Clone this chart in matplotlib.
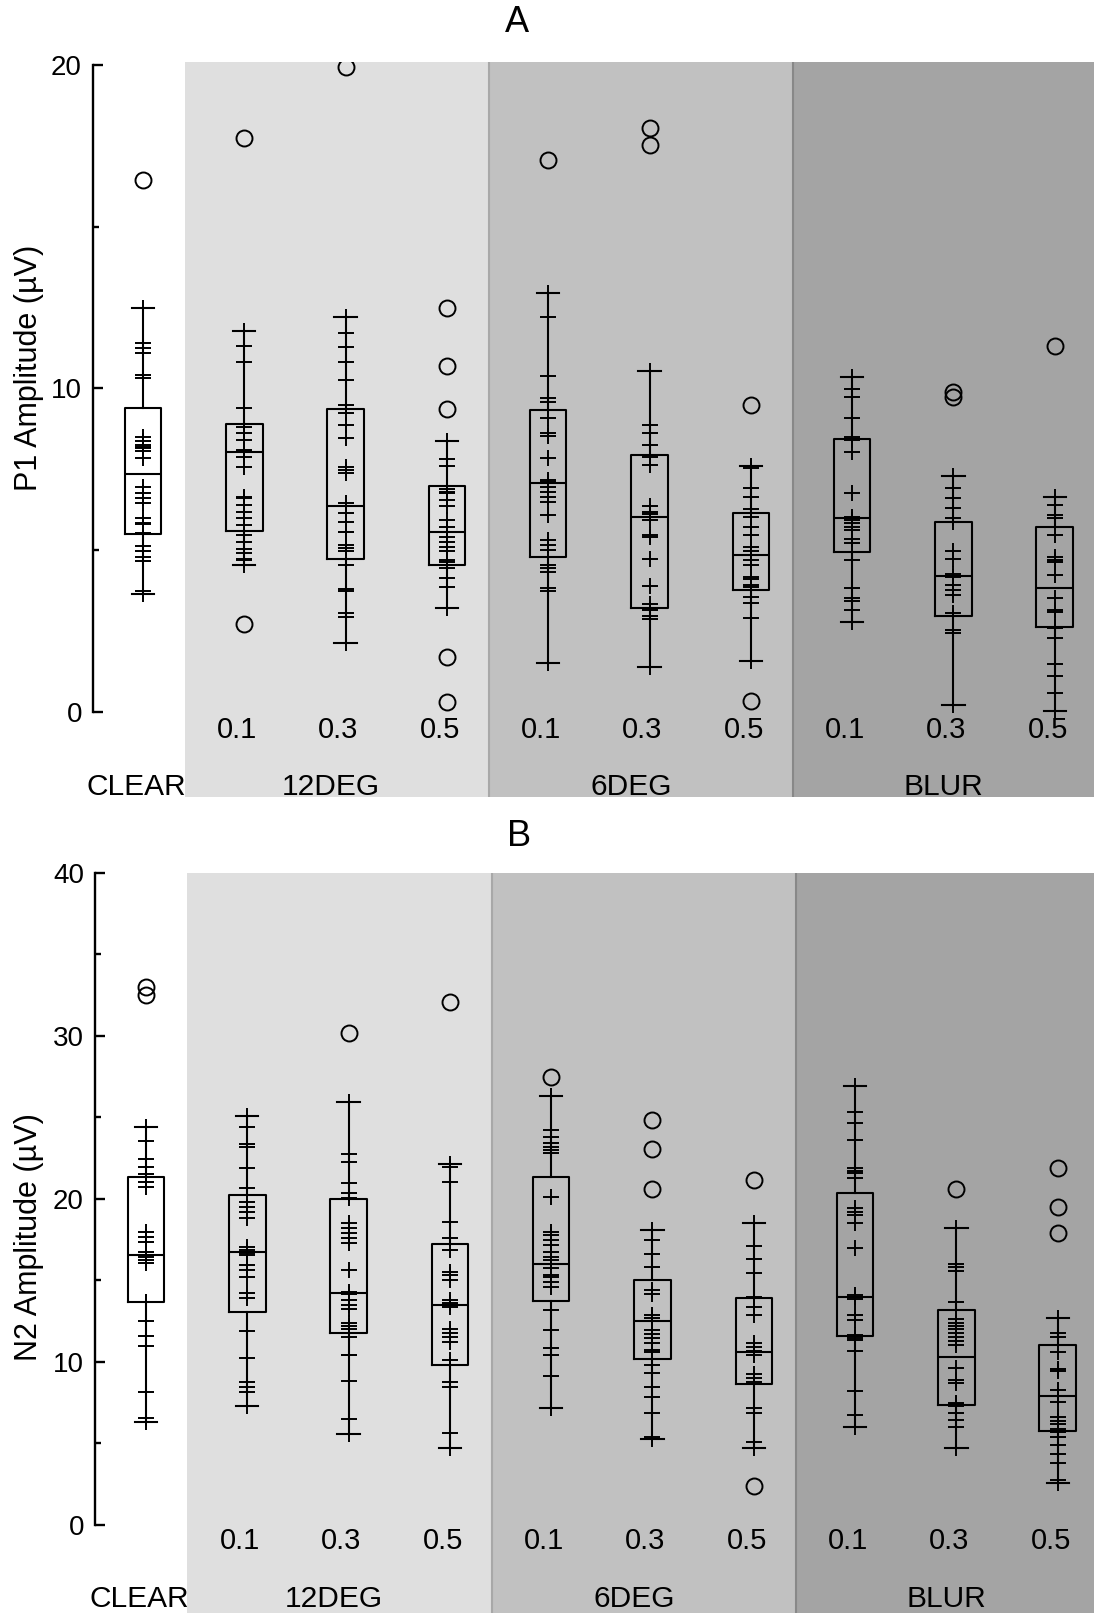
import numpy as np
import matplotlib
matplotlib.use("Agg")
import matplotlib.pyplot as plt

plt.rcParams['font.family'] = ['Liberation Sans', 'DejaVu Sans']

# Layout of the conditions
positions = [1, 2, 3, 4, 5, 6, 7, 8, 9, 10]
level_labels = ["", "0.1", "0.3", "0.5", "0.1", "0.3", "0.5", "0.1", "0.3", "0.5"]
group_names = ["CLEAR", "12DEG", "6DEG", "BLUR"]
group_label_x = [0.93, 2.85, 5.82, 8.90]
region_edges = [1.41, 4.415, 7.42]
region_colors = ["#dfdfdf", "#c1c1c1", "#a4a4a4"]

# Panel A - P1 amplitude
p1_q1 = [5.50, 5.60, 4.74, 4.54, 4.80, 3.22, 3.77, 4.93, 2.97, 2.61]
p1_med = [7.36, 8.03, 6.37, 5.57, 7.07, 6.01, 4.85, 5.99, 4.21, 3.84]
p1_q3 = [9.41, 8.89, 9.37, 6.99, 9.34, 7.94, 6.16, 8.44, 5.88, 5.73]
p1_points = [
    [12.48, 11.40, 11.24, 11.08, 10.42, 10.31, 8.49, 8.36, 8.25, 8.20, 8.15, 8.05, 7.84,
     6.95, 6.78, 6.62, 6.47, 5.98, 5.85, 5.81, 5.52, 5.14, 4.96, 4.80, 4.65, 3.75, 3.65],
    [11.78, 11.32, 10.81, 9.41, 8.82, 8.61, 8.41, 8.10, 8.05, 7.89, 7.56, 6.65, 6.60, 6.40,
     6.19, 5.99, 5.78, 5.47, 5.26, 5.05, 4.90, 4.74, 4.70, 4.54],
    [12.22, 11.70, 11.29, 10.83, 10.26, 9.49, 9.23, 8.87, 8.46, 7.56, 7.48, 7.38, 6.45, 6.14,
     5.88, 5.57, 5.55, 5.16, 5.06, 4.96, 4.54, 3.79, 3.75, 3.05, 2.93, 2.14],
    [8.38, 7.82, 7.60, 6.99, 6.88, 6.81, 6.76, 6.55, 6.37, 5.94, 5.73, 5.57, 5.42, 5.26, 5.11,
     4.96, 4.70, 4.62, 4.44, 4.13, 3.87, 3.22],
    [12.94, 12.22, 10.39, 9.69, 9.59, 9.08, 8.61, 8.53, 7.86, 7.17, 7.12, 6.96, 6.81, 6.65,
     6.50, 6.10, 5.32, 5.16, 5.01, 4.54, 4.44, 4.34, 3.82, 3.75, 1.52],
    [10.55, 8.87, 8.61, 8.25, 7.94, 7.87, 7.64, 6.35, 6.19, 6.12, 5.94, 5.47, 5.40, 4.73, 3.90,
     3.34, 3.15, 2.97, 2.87, 1.40],
    [7.60, 7.53, 6.91, 6.65, 6.26, 6.04, 5.73, 5.47, 5.11, 4.96, 4.85, 4.70, 4.54, 4.18, 4.10,
     3.93, 3.87, 3.56, 3.36, 2.90, 1.58],
    [10.35, 9.98, 9.73, 9.08, 8.49, 8.41, 8.02, 6.76, 6.04, 5.94, 5.83, 5.73, 5.63, 5.34, 5.22,
     4.70, 3.82, 3.51, 3.44, 3.15, 2.79],
    [7.30, 6.91, 6.60, 6.29, 5.99, 5.88, 4.96, 4.72, 4.27, 4.18, 3.93, 3.77, 3.62, 3.05, 2.95,
     2.53, 2.43, 0.22],
    [6.64, 6.40, 6.09, 5.99, 5.47, 4.80, 4.70, 4.62, 4.24, 3.51, 3.15, 3.10, 2.64, 2.59, 2.30,
     1.47, 1.12, 0.58, 0.04],
]
p1_outliers = [[16.44], [17.73, 2.71], [19.95], [12.48, 10.70, 9.36, 1.71, 0.32], [17.06],
               [18.04, 17.53], [9.49, 0.35], [], [9.90, 9.75], [11.31]]

# Panel B - N2 amplitude
n2_q1 = [13.66, 13.09, 11.80, 9.82, 13.76, 10.18, 8.65, 11.60, 7.36, 5.78]
n2_med = [16.56, 16.77, 14.25, 13.48, 16.01, 12.52, 10.61, 14.01, 10.33, 7.91]
n2_q3 = [21.37, 20.25, 19.98, 17.22, 21.37, 15.03, 13.95, 20.35, 13.19, 11.04]
n2_points = [
    [24.44, 23.58, 22.43, 21.98, 21.53, 21.37, 21.06, 20.72, 17.99, 17.69, 17.38, 16.77, 16.56,
     16.42, 16.26, 16.06, 13.70, 13.66, 12.53, 11.60, 11.00, 8.14, 6.54, 6.34],
    [25.09, 24.40, 23.37, 23.21, 21.92, 20.69, 19.80, 19.50, 19.20, 18.85, 17.08, 16.87, 16.71,
     16.56, 15.95, 15.64, 15.23, 14.21, 13.91, 11.90, 10.23, 8.79, 8.48, 8.18, 7.32],
    [25.97, 22.74, 22.29, 20.96, 20.39, 20.04, 18.51, 18.20, 17.90, 17.59, 17.28, 15.64, 14.31,
     14.17, 13.80, 13.50, 13.23, 12.41, 12.21, 12.01, 11.55, 10.45, 10.40, 8.83, 6.50, 5.56],
    [22.13, 21.98, 21.03, 18.61, 17.59, 16.87, 15.54, 15.34, 15.03, 13.80, 13.60, 13.39, 12.01,
     11.80, 11.55, 11.25, 10.12, 9.82, 8.79, 8.48, 5.66, 4.70],
    [26.32, 24.23, 23.82, 23.42, 23.21, 23.01, 22.80, 20.14, 17.99, 17.79, 17.48, 17.18, 16.77,
     16.46, 16.26, 15.75, 15.34, 15.20, 14.93, 14.62, 13.19, 11.96, 10.84, 10.43, 9.14, 7.16],
    [18.10, 17.48, 16.63, 15.81, 14.42, 14.17, 12.88, 12.68, 11.96, 11.72, 11.45, 11.19, 10.74,
     10.63, 9.82, 9.31, 8.48, 7.87, 6.85, 5.38, 5.30],
    [18.51, 17.12, 16.32, 15.44, 13.97, 13.39, 12.88, 11.19, 10.94, 10.69, 10.43, 9.26, 9.00,
     8.79, 8.65, 7.16, 6.89, 5.11, 4.74],
    [26.95, 25.36, 24.68, 23.62, 21.88, 21.72, 21.58, 21.27, 19.43, 19.22, 19.02, 18.51, 16.98,
     14.11, 13.97, 13.85, 12.88, 12.58, 11.66, 11.45, 11.35, 10.69, 8.24, 6.75, 6.03],
    [18.20, 16.01, 15.81, 15.60, 13.70, 12.62, 12.41, 12.21, 12.01, 11.76, 11.55, 11.31, 11.04,
     9.61, 8.90, 8.69, 7.50, 7.42, 7.30, 6.85, 6.44, 6.03, 4.70],
    [12.68, 11.76, 11.55, 10.63, 9.55, 9.47, 8.28, 7.91, 7.57, 6.61, 6.40, 6.20, 5.87, 5.72,
     5.42, 4.91, 4.36, 3.82, 2.76, 2.60],
]
n2_outliers = [[33.03, 32.52], [], [30.16], [32.11], [27.51], [24.85, 23.05, 20.60],
               [21.17, 2.39], [], [20.63], [21.88, 19.53, 17.90]]


def draw_panel(ax, q1, med, q3, pts, outl, xlim, ylim, top, major, minor, label_y, group_y):
    ax.set_xlim(xlim)
    ax.set_ylim(ylim)
    edges = region_edges + [xlim[1]]
    for i in range(3):
        ax.axvspan(edges[i], edges[i + 1], color=region_colors[i], lw=0, zorder=0)
    ax.axvline(region_edges[1], color="#a8a8a8", lw=1.5, zorder=0.5)
    ax.axvline(region_edges[2], color="#888888", lw=1.5, zorder=0.5)

    stats = []
    for i in range(len(positions)):
        stats.append(dict(med=med[i], q1=q1[i], q3=q3[i],
                          whislo=min(pts[i]), whishi=max(pts[i]), fliers=[]))
    line = dict(color="k", lw=1.5)
    ax.bxp(stats, positions=positions, widths=0.36, capwidths=0.22, showfliers=False,
           boxprops=line, whiskerprops=line, capprops=line, medianprops=line,
           manage_ticks=False, zorder=2)

    for i, pos in enumerate(positions):
        ax.plot([pos] * len(pts[i]), pts[i], ls="none", marker="+", ms=11.5, mew=1.4,
                color="k", zorder=3)
        if outl[i]:
            ax.plot([pos] * len(outl[i]), outl[i], ls="none", marker="o", ms=11.5,
                    mfc="none", mec="k", mew=1.4, zorder=3)
        if level_labels[i]:
            ax.text(pos - 0.07, label_y, level_labels[i], ha="center", va="center", fontsize=21)
    for name, gx in zip(group_names, group_label_x):
        ax.text(gx, group_y, name, ha="center", va="center", fontsize=21.5)

    for s in ["top", "right", "bottom"]:
        ax.spines[s].set_visible(False)
    ax.spines["left"].set_bounds(0, top)
    ax.spines["left"].set_linewidth(1.7)
    ax.set_xticks([])
    ax.set_yticks(major)
    ax.set_yticks(minor, minor=True)
    ax.tick_params(axis="y", which="major", direction="in", length=7.5, width=1.7,
                   labelsize=20, pad=8)
    ax.tick_params(axis="y", which="minor", direction="in", length=4.5, width=1.7)
    ax.patch.set_visible(False)


fig = plt.figure(figsize=(10.94, 16.13), dpi=100)
W, H = 1094.0, 1613.0

# Panel A
axA = fig.add_axes([93 / W, 1 - 797 / H, (W - 93) / W, (797 - 62) / H])
draw_panel(axA, p1_q1, p1_med, p1_q3, p1_points, p1_outliers,
           xlim=(0.506, 10.388), ylim=(-2.63, 20.09), top=20,
           major=[0, 10, 20], minor=[5, 15], label_y=-0.56, group_y=-2.31)
fig.text(29 / W, 1 - 368 / H, "P1 Amplitude (µV)", rotation=90, ha="center", va="center",
         fontsize=22)
fig.text(517 / W, 1 - 23 / H, "A", ha="center", va="center", fontsize=26)

# Panel B
axB = fig.add_axes([95 / W, 0, (W - 95) / W, (H - 873) / H])
draw_panel(axB, n2_q1, n2_med, n2_q3, n2_points, n2_outliers,
           xlim=(0.497, 10.358), ylim=(-5.4, 40.0), top=40,
           major=[0, 10, 20, 30, 40], minor=[5, 15, 25, 35], label_y=-1.0, group_y=-4.52)
fig.text(29 / W, 1 - 1237 / H, "N2 Amplitude (µV)", rotation=90, ha="center", va="center",
         fontsize=22)
fig.text(519 / W, 1 - 837 / H, "B", ha="center", va="center", fontsize=26)

fig.savefig("out.png", dpi=100)
